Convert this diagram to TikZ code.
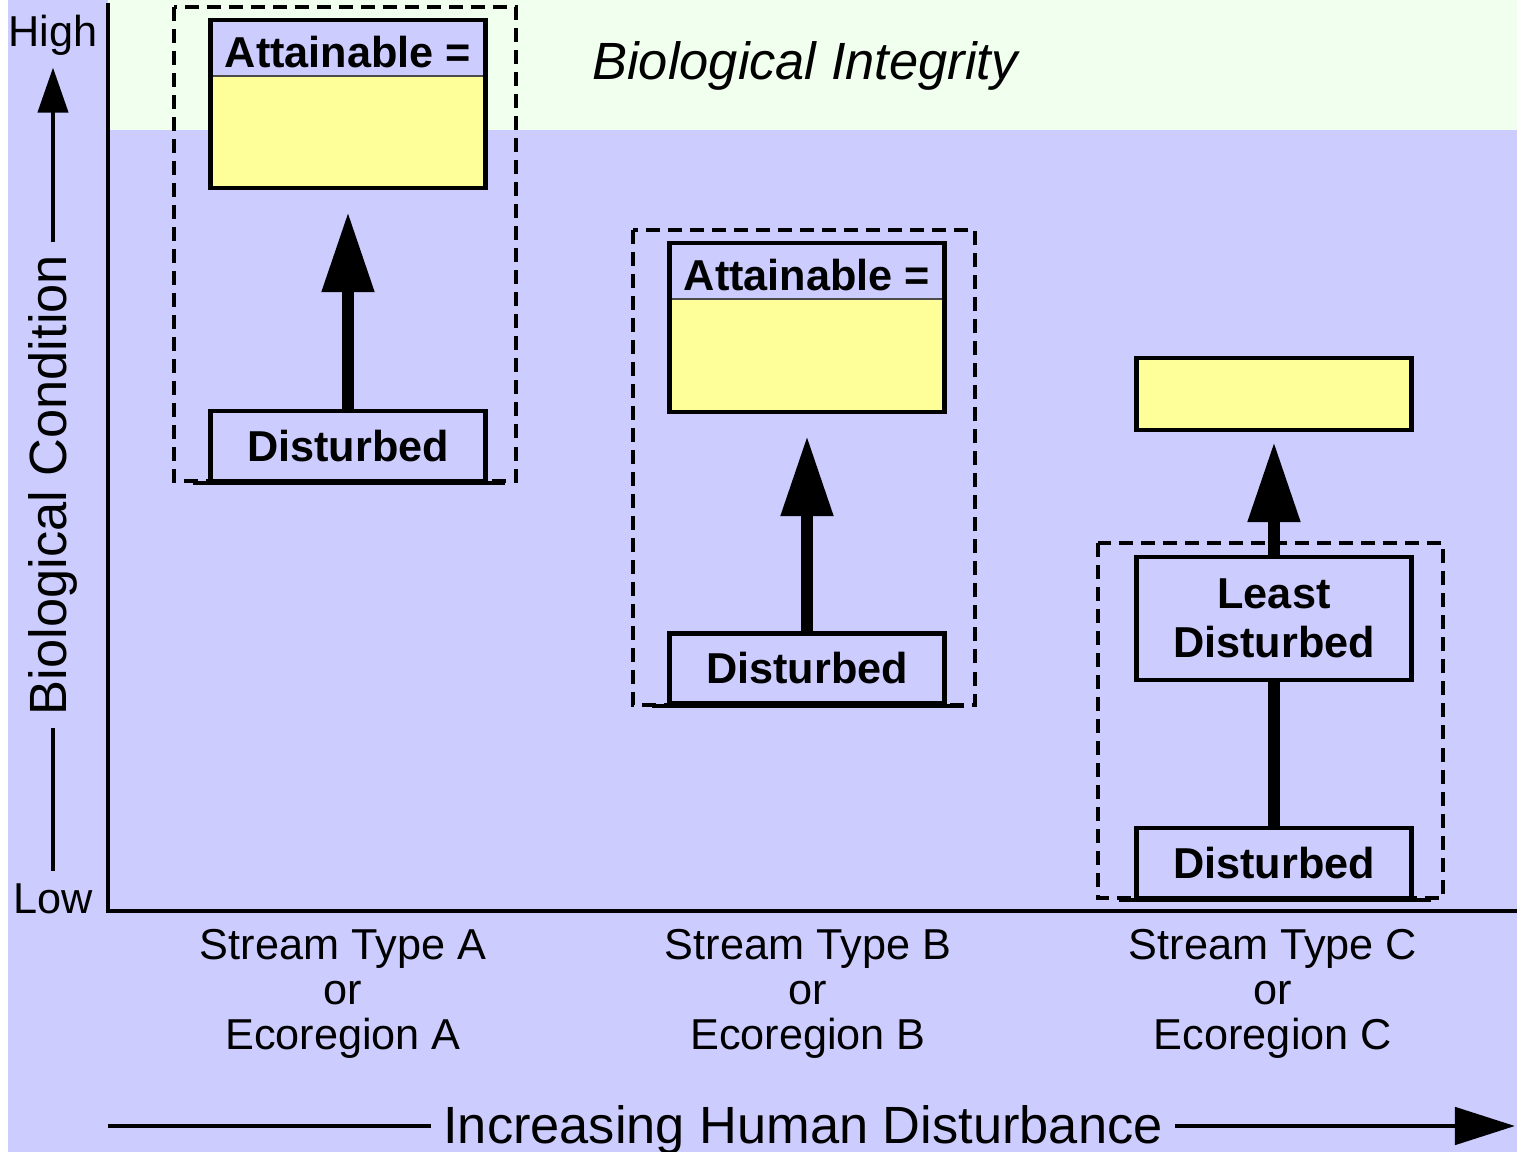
\documentclass[tikz,border=0pt]{standalone}
\usepackage{fontspec}
\setmainfont{Liberation Sans}
\usetikzlibrary{arrows.meta}

\definecolor{lav}{HTML}{CCCCFF}
\definecolor{mint}{HTML}{F0FFEE}
\definecolor{yel}{HTML}{FFFF99}

\newcommand{\txtsize}{\fontsize{12.3}{12.7}\selectfont}
\newcommand{\bigsize}{\fontsize{14.9}{17}\selectfont}

\tikzset{
  box/.style={draw, line width=1.2pt, minimum width=2.75cm, inner sep=0pt, align=center, font=\bfseries\txtsize},
  goal/.style={box, fill=yel, minimum height=1.68cm,
    path picture={
      \fill[lav] (path picture bounding box.north west) rectangle ([yshift=-0.56cm]path picture bounding box.north east);
      \draw[line width=0.5pt, black!70] ([yshift=-0.56cm]path picture bounding box.north west) -- ([yshift=-0.56cm]path picture bounding box.north east);
    }},
  headtxt/.style={inner sep=0pt, font=\bfseries\txtsize},
  dashframe/.style={line width=1.05pt, dash pattern=on 0.14cm off 0.08cm},
  ground/.style={line width=1.2pt},
  rise/.style={-{Triangle[width=0.5cm,length=0.8cm]}, line width=3.3pt},
  axisline/.style={line width=0.9pt},
  stream/.style={align=center, font=\txtsize},
}

\begin{document}
\begin{tikzpicture}[x=0.01cm, y=-0.01cm]

% === BACKGROUND ===
\useasboundingbox (0,0) rectangle (1517,1152);
\fill[white] (0,0) rectangle (1517,1152);
\fill[lav] (8,0) rectangle (1517,1152);
\fill[mint] (108,0) rectangle (1517,130);
\node[font=\itshape\bigsize] (integ) at (805,66) {Biological Integrity};

% === AXES ===
\draw[axisline] (108,3) -- (108,911) -- (1517,911);

% Y axis: condition
\node[font=\txtsize] (high) at (53,35) {High};
\node[font=\txtsize] (low) at (53,899) {Low};
\node[font=\bigsize, rotate=90] (cond) at (53,485) {Biological Condition};
\draw[line width=1.2pt, -{Triangle[width=0.3cm,length=0.45cm]}] (cond.east) -- (high.south);
\draw[line width=1.2pt] (cond.west) -- (low.north);

% X axis: disturbance
\node[font=\bigsize] (incr) at (803,1130) {Increasing Human Disturbance};
\coordinate (xstart) at (108,1126);
\coordinate (xend) at (1515,1126);
\draw[line width=1.4pt] (xstart) -- (xstart -| incr.west);
\draw[line width=1.4pt, -{Triangle[width=0.37cm,length=0.6cm]}] (xend -| incr.east) -- (xend);

% === STREAM TYPES A AND B ===
% name/x/goal y/goal h/disturbed y/frame left/right/top/bottom
\foreach \c/\x/\yg/\hg/\yd/\fl/\fr/\ft/\fb in {
  A/348/104/1.68/446/174/516/7/481,
  B/807/327.5/1.69/668.5/633/975/230/705
} {
  \draw[dashframe] (\fl,\ft) rectangle (\fr,\fb);
  \node[goal, minimum height=\hg cm] (goal\c) at (\x,\yg) {};
  \node[headtxt] (head\c) at ([yshift=-0.345cm]goal\c.north) {Attainable =};
  \node[box, minimum height=0.7cm] (dist\c) at (\x,\yd) {Disturbed};
  \draw[ground] ([xshift=-0.15cm]dist\c.south west) -- ([xshift=0.17cm]dist\c.south east);
  \draw[rise, shorten >=0.22cm] (dist\c) -- (goal\c);
}

% === STREAM TYPE C ===
\draw[dashframe] (1098,543) rectangle (1443,898);
\node[box, fill=yel, minimum height=0.72cm] (goalC) at (1274,394) {};
\node[box, minimum height=1.23cm] (leastC) at (1274,618.5) {Least\\[1.3pt]Disturbed};
\node[box, minimum height=0.7cm] (distC) at (1274,863) {Disturbed};
\draw[ground] ([xshift=-0.15cm]distC.south west) -- ([xshift=0.17cm]distC.south east);
\draw[line width=3.3pt] (distC) -- (leastC);
\draw[rise, shorten >=0.1cm] (leastC) -- (goalC);

% === LABELS ===
\node[stream] (typeA) at (343,994) {Stream Type A\\or\\Ecoregion A};
\node[stream] (typeB) at (808,994) {Stream Type B\\or\\Ecoregion B};
\node[stream] (typeC) at (1273,994) {Stream Type C\\or\\Ecoregion C};

\end{tikzpicture}
\end{document}
